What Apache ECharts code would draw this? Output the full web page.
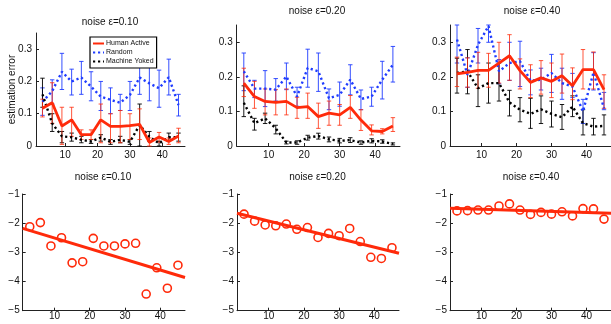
<!DOCTYPE html>
<html><head><meta charset="utf-8">
<script src="https://cdn.jsdelivr.net/npm/echarts@6/dist/echarts.min.js"></script>
<style>html,body{margin:0;padding:0;background:#fff}#c{width:611px;height:324px}</style>
</head><body><div id="c"></div>
<script>
const titles = ['noise ε=0.10', 'noise ε=0.20', 'noise ε=0.40'];
const seriesNames = ['Human Active', 'Random', 'Machine Yoked'];
const trials = [3, 6, 9, 12, 15, 18, 21, 24, 27, 30, 33, 36, 39, 42, 45];
const xTicks = [10, 20, 30, 40];
const errTicks = [0, 0.1, 0.2, 0.3];
const slopeTicks = [-5, -4, -3, -2, -1];

// noise 0.10
const human010 = [0.117, 0.134, 0.062, 0.081, 0.035, 0.035, 0.081, 0.061, 0.061, 0.063, 0.067, 0.011, 0.028, 0.014, 0.031];
const human010Lo = [0.09, 0.07, 0.005, 0.03, 0.02, 0.02, 0.01, 0.01, 0.01, 0.02, 0.02, 0.0, 0.012, 0.005, 0.01];
const human010Hi = [0.145, 0.196, 0.12, 0.12, 0.05, 0.05, 0.13, 0.1, 0.11, 0.1, 0.115, 0.025, 0.042, 0.025, 0.055];
const random010 = [0.137, 0.17, 0.23, 0.2, 0.212, 0.184, 0.153, 0.143, 0.134, 0.158, 0.212, 0.194, 0.179, 0.213, 0.127];
const random010Lo = [0.095, 0.13, 0.175, 0.158, 0.16, 0.14, 0.11, 0.1, 0.11, 0.11, 0.16, 0.14, 0.12, 0.158, 0.093];
const random010Hi = [0.18, 0.205, 0.287, 0.238, 0.262, 0.23, 0.2, 0.18, 0.16, 0.2, 0.26, 0.25, 0.235, 0.269, 0.16];
const yoked010 = [0.16, 0.07, 0.03, 0.027, 0.019, 0.014, 0.026, 0.013, 0.019, 0.013, 0.065, 0.029, 0.008, 0.027, 0.027];
const yoked010Lo = [0.12, 0.045, 0.01, 0.015, 0.01, 0.008, 0.015, 0.005, 0.01, 0.005, 0.0, 0.015, 0.0, 0.015, 0.015];
const yoked010Hi = [0.21, 0.1, 0.045, 0.04, 0.03, 0.02, 0.035, 0.02, 0.03, 0.02, 0.13, 0.045, 0.015, 0.04, 0.04];

// noise 0.20
const human020 = [0.182, 0.143, 0.129, 0.126, 0.129, 0.111, 0.114, 0.085, 0.095, 0.09, 0.112, 0.075, 0.044, 0.042, 0.058];
const human020Lo = [0.143, 0.109, 0.09, 0.09, 0.09, 0.08, 0.08, 0.051, 0.06, 0.06, 0.08, 0.045, 0.032, 0.035, 0.042];
const human020Hi = [0.225, 0.187, 0.165, 0.163, 0.165, 0.141, 0.153, 0.124, 0.13, 0.12, 0.146, 0.105, 0.061, 0.05, 0.082];
const random020 = [0.216, 0.166, 0.166, 0.163, 0.201, 0.143, 0.226, 0.216, 0.138, 0.148, 0.192, 0.136, 0.143, 0.192, 0.235];
const random020Lo = [0.16, 0.14, 0.114, 0.13, 0.163, 0.115, 0.17, 0.158, 0.105, 0.115, 0.148, 0.105, 0.115, 0.136, 0.185];
const random020Hi = [0.269, 0.19, 0.218, 0.195, 0.24, 0.17, 0.28, 0.269, 0.165, 0.185, 0.235, 0.162, 0.17, 0.245, 0.288];
const yoked020 = [0.125, 0.066, 0.08, 0.051, 0.01, 0.01, 0.024, 0.029, 0.019, 0.015, 0.017, 0.01, 0.015, 0.013, 0.006];
const yoked020Lo = [0.085, 0.046, 0.065, 0.035, 0.006, 0.005, 0.017, 0.02, 0.012, 0.009, 0.01, 0.005, 0.009, 0.008, 0.003];
const yoked020Hi = [0.174, 0.08, 0.095, 0.06, 0.014, 0.015, 0.031, 0.037, 0.026, 0.022, 0.024, 0.015, 0.021, 0.018, 0.009];

// noise 0.40
const human040 = [0.209, 0.213, 0.219, 0.219, 0.24, 0.261, 0.218, 0.184, 0.197, 0.187, 0.203, 0.174, 0.221, 0.221, 0.163];
const human040Lo = [0.172, 0.17, 0.167, 0.17, 0.182, 0.19, 0.165, 0.14, 0.15, 0.14, 0.153, 0.134, 0.165, 0.165, 0.109];
const human040Hi = [0.257, 0.255, 0.271, 0.268, 0.3, 0.322, 0.252, 0.235, 0.247, 0.24, 0.266, 0.226, 0.279, 0.272, 0.206];
const random040 = [0.308, 0.206, 0.293, 0.347, 0.216, 0.24, 0.245, 0.189, 0.192, 0.211, 0.182, 0.172, 0.1, 0.213, 0.109];
const random040Lo = [0.24, 0.17, 0.24, 0.3, 0.18, 0.19, 0.172, 0.148, 0.162, 0.155, 0.135, 0.14, 0.065, 0.162, 0.105];
const random040Hi = [0.35, 0.255, 0.34, 0.35, 0.25, 0.3, 0.303, 0.22, 0.225, 0.265, 0.225, 0.21, 0.135, 0.27, 0.155];
const yoked040 = [0.211, 0.216, 0.167, 0.182, 0.182, 0.126, 0.105, 0.093, 0.106, 0.093, 0.083, 0.114, 0.066, 0.056, 0.058];
const yoked040Lo = [0.153, 0.151, 0.114, 0.124, 0.13, 0.087, 0.07, 0.051, 0.065, 0.055, 0.048, 0.085, 0.032, 0.032, 0.032];
const yoked040Hi = [0.254, 0.279, 0.206, 0.24, 0.24, 0.161, 0.14, 0.138, 0.145, 0.13, 0.12, 0.145, 0.105, 0.08, 0.09];

// bottom row: per-trial values and fitted line
const slope010 = [-2.12, -1.98, -2.78, -2.5, -3.36, -3.32, -2.52, -2.78, -2.78, -2.71, -2.69, -4.43, -3.53, -4.23, -3.44];
const slope020 = [-1.69, -1.93, -2.06, -2.09, -2.03, -2.21, -2.15, -2.49, -2.35, -2.43, -2.18, -2.63, -3.17, -3.21, -2.84];
const slope040 = [-1.58, -1.57, -1.55, -1.55, -1.41, -1.34, -1.55, -1.70, -1.63, -1.69, -1.61, -1.75, -1.50, -1.51, -1.86];
const fitX = [1, 47];
const fit010 = [-2.18, -3.86];
const fit020 = [-1.66, -3.03];
const fit040 = [-1.49, -1.66];

const RED = '#ff2a0a', BLUE = '#1f3cff', BLACK = '#000';
const FONT = 'Liberation Sans';

const grids = [
  {left: 36, top: 33, width: 149, height: 113},
  {left: 236.7, top: 25, width: 163.3, height: 121},
  {left: 450, top: 25, width: 163.3, height: 121},
  {left: 22.7, top: 194, width: 162.3, height: 116.7},
  {left: 237, top: 194, width: 162, height: 116.7},
  {left: 450, top: 194, width: 163, height: 116.7}
];

const minus = v => (v < 0 ? '\u2212' + Math.abs(v) : String(v));

const xAxes = grids.map((g, i) => ({
  type: 'value', gridIndex: i, min: 1, max: 47,
  axisLine: {lineStyle: {color: '#222', width: 1}},
  axisTick: {inside: true, length: 3, customValues: xTicks, lineStyle: {color: '#222'}},
  axisLabel: {customValues: xTicks, color: '#111', fontFamily: FONT, fontSize: 10, margin: i < 3 ? 4 : 1},
  splitLine: {show: false}
}));
const yAxes = grids.map((g, i) => i < 3 ? ({
  type: 'value', gridIndex: i, min: 0, max: 0.35,
  axisLine: {lineStyle: {color: '#222', width: 1}},
  axisTick: {inside: true, length: 3, customValues: errTicks, lineStyle: {color: '#222'}},
  axisLabel: {customValues: errTicks, color: '#111', fontFamily: FONT, fontSize: 10, margin: 4,
    formatter: v => String(Math.round(v * 10) / 10)},
  splitLine: {show: false},
  name: i === 0 ? 'estimation error' : '', nameLocation: 'middle', nameGap: 19,
  nameMoveOverlap: false,
  nameTextStyle: {fontFamily: FONT, fontSize: 10, color: '#111'}
}) : ({
  type: 'value', gridIndex: i, min: -5, max: -1, interval: 1,
  axisLine: {lineStyle: {color: '#222', width: 1}},
  axisTick: {inside: true, length: 3, lineStyle: {color: '#222'}},
  axisLabel: {color: '#111', fontFamily: FONT, fontSize: 10, margin: 3, formatter: minus},
  splitLine: {show: false}
}));

function pairs(vals) { return trials.map((x, i) => [x, vals[i]]); }

function errBars(lo, hi, gi, color, opacity) {
  return {
    type: 'custom', name: 'err', xAxisIndex: gi, yAxisIndex: gi, silent: true,
    data: trials.map((x, i) => [x, lo[i], hi[i]]),
    encode: {x: 0, y: [1, 2]},
    renderItem: (params, api) => {
      const x = api.value(0);
      const p1 = api.coord([x, api.value(1)]);
      const p2 = api.coord([x, api.value(2)]);
      const hw = 2.2;
      const st = {stroke: color, lineWidth: 1, opacity: opacity};
      return {type: 'group', children: [
        {type: 'line', shape: {x1: p1[0], y1: p1[1], x2: p2[0], y2: p2[1]}, style: st},
        {type: 'line', shape: {x1: p1[0] - hw, y1: p1[1], x2: p1[0] + hw, y2: p1[1]}, style: st},
        {type: 'line', shape: {x1: p2[0] - hw, y1: p2[1], x2: p2[0] + hw, y2: p2[1]}, style: st}
      ]};
    }
  };
}

function line(name, vals, gi, color, dotted) {
  return {
    type: 'line', name: name, xAxisIndex: gi, yAxisIndex: gi, data: pairs(vals),
    symbol: 'none', animation: false,
    lineStyle: dotted ? {color: color, width: 2.4, type: [2.2, 2.8], cap: 'butt'} : {color: color, width: 2.8},
    itemStyle: {color: color}
  };
}

const topData = [
  [human010, human010Lo, human010Hi, random010, random010Lo, random010Hi, yoked010, yoked010Lo, yoked010Hi],
  [human020, human020Lo, human020Hi, random020, random020Lo, random020Hi, yoked020, yoked020Lo, yoked020Hi],
  [human040, human040Lo, human040Hi, random040, random040Lo, random040Hi, yoked040, yoked040Lo, yoked040Hi]
];
const slopes = [slope010, slope020, slope040];
const fits = [fit010, fit020, fit040];

const series = [];
topData.forEach((d, gi) => {
  series.push(errBars(d[4], d[5], gi, BLUE, 0.9));
  series.push(line(seriesNames[1], d[3], gi, BLUE, true));
  series.push(errBars(d[7], d[8], gi, BLACK, 0.9));
  series.push(line(seriesNames[2], d[6], gi, BLACK, true));
  series.push(errBars(d[1], d[2], gi, RED, 0.8));
  series.push(line(seriesNames[0], d[0], gi, RED, false));
});
slopes.forEach((s, k) => {
  const gi = k + 3;
  series.push({
    type: 'line', name: 'fit', xAxisIndex: gi, yAxisIndex: gi,
    data: fitX.map((x, i) => [x, fits[k][i]]), symbol: 'none',
    lineStyle: {color: RED, width: 3}
  });
  series.push({
    type: 'scatter', name: 'trial', xAxisIndex: gi, yAxisIndex: gi, data: pairs(s),
    symbol: 'circle', symbolSize: 8,
    itemStyle: {color: '#fff', opacity: 1, borderColor: RED, borderWidth: 1.6}
  });
});

const titleCfg = [[110, 17], [317, 6], [532, 6], [103, 172], [317.5, 172], [531, 172]];
const title = titleCfg.map((t, i) => ({
  text: titles[i % 3], left: t[0], top: t[1], textAlign: 'center', padding: 0,
  textStyle: {fontFamily: FONT, fontSize: 10, fontWeight: 'normal', color: '#111'}
}));

const chart = echarts.init(document.getElementById('c'), null, {renderer: 'canvas'});
chart.setOption({
  animation: false,
  backgroundColor: '#fff',
  title: title,
  grid: grids,
  xAxis: xAxes,
  yAxis: yAxes,
  legend: {
    data: seriesNames, orient: 'vertical', left: 90, top: 37,
    backgroundColor: '#fff', borderColor: '#000', borderWidth: 1.2, borderRadius: 0,
    padding: [3, 3, 3, 2], itemGap: 2, itemWidth: 11, itemHeight: 6,
    itemStyle: {opacity: 0, borderWidth: 0},
    textStyle: {fontFamily: FONT, fontSize: 7, color: '#111', padding: [0, 0, 0, -3]},
    selectedMode: false
  },
  series: series
});
</script></body></html>
